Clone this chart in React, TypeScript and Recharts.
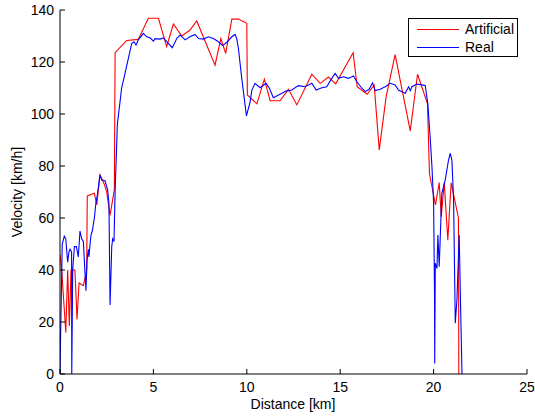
import React from 'react';
import { LineChart, Line, XAxis, YAxis } from 'recharts';

const artificialDistance = [
  0.0, 0.09, 0.31, 0.41, 0.5, 0.59, 0.8, 0.91, 1.02, 1.25, 1.43, 1.46, 1.84, 1.97, 2.14, 2.37, 2.5, 2.68, 2.91, 2.95,
  3.57, 4.19, 4.73, 5.27, 5.71, 6.07, 6.52, 6.96, 7.32, 8.3, 8.61, 8.87, 9.2, 9.55, 10.0, 10.03, 10.54, 10.94, 11.25,
  11.78, 12.23, 12.68, 13.48, 13.93, 14.37, 14.76, 15.69, 15.91, 16.44, 16.82, 17.09, 17.46, 17.94, 18.75, 19.14,
  19.67, 19.78, 20.1, 20.3, 20.41, 20.57, 20.76, 20.94, 21.33, 21.35,
];
const artificialVelocity = [
  45.8, 40, 16, 40, 18.5, 40, 40, 21, 35, 34, 40, 68.5, 69.5, 65, 76.7, 73, 70, 61, 71, 123.6,
  128.3, 128.7, 136.8, 136.8, 125.9, 134.6, 130, 132.3, 135.8, 118.8, 129, 123.3, 136.5, 136.5, 134.9, 107.3, 103.9, 113.4, 105.1,
  105.1, 109.5, 103.5, 115.3, 111.8, 114.2, 111.6, 123.6, 110.5, 107.6, 111.1, 86.2, 106.7, 122.8, 93.5, 115.3,
  104, 77, 65, 73.6, 60.5, 73.6, 51.5, 73.5, 60, 0,
];

const realDistance = [
  0.0, 0.03, 0.12, 0.23, 0.31, 0.41, 0.48, 0.54, 0.62, 0.63, 0.68, 0.77, 0.88, 0.98, 1.07, 1.16, 1.25, 1.3, 1.39, 1.45,
  1.52, 1.55, 1.61, 1.66, 1.73, 1.84, 1.91, 2.02, 2.14, 2.23, 2.41, 2.55, 2.62, 2.68, 2.77, 2.82, 2.89, 2.95, 3.07, 3.3,
  3.48, 3.66, 3.84, 3.96, 4.07, 4.19, 4.46, 4.64, 4.82, 5.0, 5.09, 5.36, 5.53, 5.8, 6.01, 6.25, 6.43, 6.7, 6.96, 7.23,
  7.41, 7.68, 7.94, 8.21, 8.48, 8.71, 8.93, 9.2, 9.37, 9.46, 9.55, 9.73, 9.98, 10.18, 10.27, 10.44, 10.71, 11.03, 11.21, 11.42,
  11.78, 12.1, 12.41, 12.76, 13.12, 13.48, 13.71, 14.02, 14.28, 14.55, 14.73, 14.91, 15.17, 15.44, 15.71, 15.89, 16.16, 16.34, 16.55, 16.73,
  16.87, 17.14, 17.41, 17.68, 17.94, 18.12, 18.3, 18.48, 18.66, 18.75, 18.84, 19.11, 19.37, 19.55, 19.69, 19.82, 19.91, 20.0, 20.05, 20.06,
  20.09, 20.18, 20.23, 20.3, 20.44, 20.62, 20.8, 20.89, 20.98, 21.07, 21.16, 21.25, 21.37, 21.46, 21.52,
];
const realVelocity = [
  0, 14, 50, 53, 52, 43, 47, 48, 47, 0, 40, 49, 49, 45, 55, 52, 51, 44, 32, 44,
  48, 45, 50, 53.5, 55, 60, 65, 70, 76.5, 74.6, 74.3, 70.8, 65.6, 26.5, 49, 52, 51, 70, 96, 110,
  115.6, 121.4, 127.2, 127.8, 126.5, 128.5, 131, 129.7, 129.3, 128, 129, 128.8, 129.3, 127.2, 125.5, 129, 130.4, 128.5, 129.7, 130.6,
  129, 128.8, 129.7, 129, 127.8, 126.3, 127.6, 129.7, 130.6, 129, 125.3, 113.7, 99.3, 104.7, 109.2, 111.8, 110.1, 111.8, 109.9, 106.3,
  107.6, 108.8, 109.2, 110.9, 110.5, 111.8, 109.2, 110.1, 110.5, 113.7, 115.6, 113.7, 114.3, 113.7, 114.6, 112.4, 109.9, 108.6, 109.5, 112,
  109, 109.5, 110.5, 111.8, 111.2, 109.2, 108.6, 108, 110.5, 109, 110.5, 111.5, 111.2, 111, 104, 90.6, 80, 66, 31, 4,
  42.6, 40.6, 53.5, 41.3, 69.5, 74.6, 82.3, 84.9, 82.3, 67, 19.5, 28.5, 53.5, 20.8, 0,
];

const xTicks = [0, 5, 10, 15, 20, 25];
const yTicks = [0, 20, 40, 60, 80, 100, 120, 140];
const seriesNames = ['Artificial', 'Real'];
const seriesColors = ['#ff0000', '#0000ff'];
const xLabel = 'Distance [km]';
const yLabel = 'Velocity [km/h]';

const artificialData = artificialDistance.map((d, i) => ({ d, v: artificialVelocity[i] }));
const realData = realDistance.map((d, i) => ({ d, v: realVelocity[i] }));

const FONT = '"Liberation Sans", Arial, Helvetica, sans-serif';
const TICK = 5;

const BottomTick = (props: any) => {
  const { x, y, payload } = props;
  return (
    <g>
      <line x1={x} x2={x} y1={y} y2={y - TICK} stroke="#000" strokeWidth={1} />
      <text x={x} y={y + 18} textAnchor="middle" fontSize={14} fontFamily={FONT} fill="#000">
        {payload.value}
      </text>
    </g>
  );
};
const TopTick = (props: any) => {
  const { x, y } = props;
  return <line x1={x} x2={x} y1={y} y2={y + TICK} stroke="#000" strokeWidth={1} />;
};
const LeftTick = (props: any) => {
  const { x, y, payload } = props;
  return (
    <g>
      <line x1={x} x2={x + TICK} y1={y} y2={y} stroke="#000" strokeWidth={1} />
      <text x={x - 6} y={y + 5} textAnchor="end" fontSize={14} fontFamily={FONT} fill="#000">
        {payload.value}
      </text>
    </g>
  );
};
const RightTick = (props: any) => {
  const { x, y } = props;
  return <line x1={x} x2={x - TICK} y1={y} y2={y} stroke="#000" strokeWidth={1} />;
};

export default function App() {
  return (
    <div style={{ position: 'absolute', left: 0, top: 0, width: 535, height: 418, background: '#fff' }}>
      <LineChart
        width={535}
        height={418}
        margin={{ top: 10, right: 8, bottom: 14, left: 20 }}
      >
        <XAxis
          xAxisId="b"
          dataKey="d"
          type="number"
          domain={[0, 25]}
          ticks={xTicks}
          allowDataOverflow
          height={30}
          tickSize={0}
          tickMargin={0}
          tickLine={false}
          axisLine={{ stroke: '#000', strokeWidth: 1 }}
          tick={<BottomTick />}
          interval={0}
        />
        <XAxis
          xAxisId="t"
          orientation="top"
          dataKey="d"
          type="number"
          domain={[0, 25]}
          ticks={xTicks}
          allowDataOverflow
          height={0}
          tickSize={0}
          tickMargin={0}
          tickLine={false}
          axisLine={{ stroke: '#000', strokeWidth: 1 }}
          tick={<TopTick />}
          interval={0}
        />
        <YAxis
          yAxisId="l"
          type="number"
          domain={[0, 140]}
          ticks={yTicks}
          allowDataOverflow
          width={40}
          tickSize={0}
          tickMargin={0}
          tickLine={false}
          axisLine={{ stroke: '#000', strokeWidth: 1 }}
          tick={<LeftTick />}
          interval={0}
        />
        <YAxis
          yAxisId="r"
          orientation="right"
          type="number"
          domain={[0, 140]}
          ticks={yTicks}
          allowDataOverflow
          width={0}
          tickSize={0}
          tickMargin={0}
          tickLine={false}
          axisLine={{ stroke: '#000', strokeWidth: 1 }}
          tick={<RightTick />}
          interval={0}
        />
        <Line
          xAxisId="b"
          yAxisId="l"
          data={artificialData}
          dataKey="v"
          name={seriesNames[0]}
          stroke={seriesColors[0]}
          strokeWidth={1.1}
          dot={false}
          activeDot={false}
          isAnimationActive={false}
          type="linear"
        />
        <Line
          xAxisId="b"
          yAxisId="l"
          data={realData}
          dataKey="v"
          name={seriesNames[1]}
          stroke={seriesColors[1]}
          strokeWidth={1.1}
          dot={false}
          activeDot={false}
          isAnimationActive={false}
          type="linear"
        />
      </LineChart>
      <div
        style={{
          position: 'absolute',
          left: 293,
          top: 396,
          transform: 'translateX(-50%)',
          fontFamily: FONT,
          fontSize: 14,
          color: '#000',
          whiteSpace: 'nowrap',
          lineHeight: '16px',
        }}
      >
        {xLabel}
      </div>
      <div
        style={{
          position: 'absolute',
          left: 17,
          top: 192,
          transform: 'translate(-50%, -50%) rotate(-90deg)',
          fontFamily: FONT,
          fontSize: 14,
          color: '#000',
          whiteSpace: 'nowrap',
          lineHeight: '16px',
        }}
      >
        {yLabel}
      </div>
      <div
        style={{
          position: 'absolute',
          left: 408,
          top: 18,
          width: 110,
          height: 39,
          border: '1px solid #000',
          background: '#fff',
          boxSizing: 'border-box',
          fontFamily: FONT,
          fontSize: 14,
          color: '#000',
        }}
      >
        {seriesNames.map((name, i) => (
          <div
            key={name}
            style={{ position: 'absolute', left: 0, top: 2 + i * 17.5, height: 17, display: 'flex', alignItems: 'center' }}
          >
            <svg width={56} height={17} style={{ display: 'block' }}>
              <line x1={8} x2={50} y1={8.5} y2={8.5} stroke={seriesColors[i]} strokeWidth={1.1} />
            </svg>
            <span style={{ lineHeight: '17px' }}>{name}</span>
          </div>
        ))}
      </div>
    </div>
  );
}
